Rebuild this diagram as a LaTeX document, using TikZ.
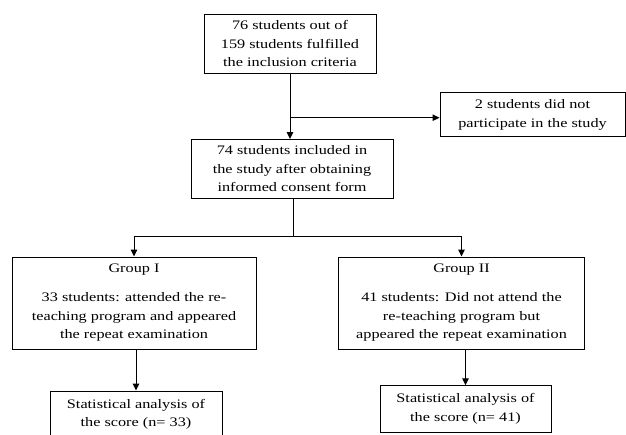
\documentclass[tikz,border=0pt]{standalone}
\usepackage{fontspec}
\setmainfont[FakeStretch=1.25]{Liberation Serif}
\usetikzlibrary{arrows.meta}
\tikzset{
  box/.style={draw=black, line width=1pt, inner sep=0pt, align=center,
    font=\fontsize{13}{18.5}\selectfont, text=black},
  conn/.style={draw=black, line width=1pt},
  arr/.style={conn, -{Triangle[length=7pt,width=6.5pt]}}
}
\begin{document}
\begin{tikzpicture}[x=1pt,y=-1pt]
\clip (0,0) rectangle (626,434);
\fill[white] (0,0) rectangle (626,434);

\node[box, minimum width=172pt, minimum height=59pt] (b1) at (290,43.7)
  {76 students out of\\159 students fulfilled\\the inclusion criteria};
\node[box, minimum width=185pt, minimum height=44pt] (b3) at (532.5,114.7)
  {2 students did not\\participate in the study};
\node[box, minimum width=202pt, minimum height=59pt] (b2) at (292,169)
  {74 students included in\\the study after obtaining\\informed consent form};
\node[box, minimum width=244pt, minimum height=92pt] (g1) at (134,303)
  {Group I\\[10.5pt]33 students: attended the re-\\teaching program and appeared\\the repeat examination};
\node[box, minimum width=246pt, minimum height=92pt] (g2) at (461.5,303)
  {Group II\\[10.5pt]41 students: Did not attend the\\re-teaching program but\\appeared the repeat examination};
\node[box, minimum width=172pt, minimum height=47pt] (s1) at (136,414.5)
  {Statistical analysis of\\the score (n= 33)};
\node[box, minimum width=171pt, minimum height=46.5pt] (s2) at (465.5,409)
  {Statistical analysis of\\the score (n= 41)};

\coordinate (br) at (290,117.7);
\coordinate (split) at (293,236);

\draw[arr] (b1.south) -- (b1.south |- b2.north);
\draw[arr] (br) -- (br -| b3.west);
\draw[conn] (b2.south -| split) -- (split);
\draw[arr] (split) -| (g1.north);
\draw[arr] (split) -| (g2.north);
\draw[arr] (g1.south -| s1.north) -- (s1.north);
\draw[arr] (g2.south -| s2.north) -- (s2.north);
\end{tikzpicture}
\end{document}
